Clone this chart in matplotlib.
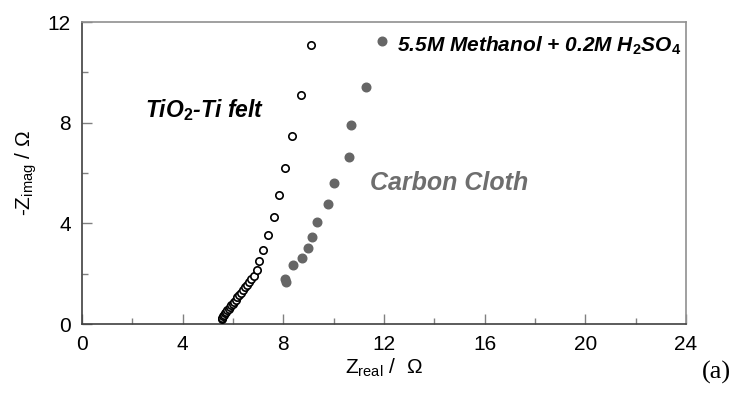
import matplotlib
matplotlib.use("Agg")
import matplotlib.pyplot as plt
from matplotlib.ticker import MultipleLocator

plt.rcParams['font.family'] = ['Liberation Sans', 'DejaVu Sans']
plt.rcParams['mathtext.fontset'] = 'custom'
plt.rcParams['mathtext.rm'] = 'Liberation Sans'
plt.rcParams['mathtext.it'] = 'Liberation Sans:italic:bold'
plt.rcParams['mathtext.bf'] = 'Liberation Sans:bold'

# TiO2-Ti felt electrode (open circles)
tio2_zreal = [5.55, 5.58, 5.62, 5.66, 5.70, 5.74, 5.78, 5.83, 5.88, 5.93,
              5.98, 6.04, 6.10, 6.17, 6.24, 6.32, 6.40, 6.48, 6.56,
              6.64, 6.73, 6.82, 6.94, 7.05, 7.20, 7.39, 7.62, 7.84,
              8.08, 8.36, 8.70, 9.11]
tio2_zimag = [0.18, 0.24, 0.30, 0.36, 0.42, 0.48, 0.54, 0.60, 0.67, 0.74,
              0.81, 0.89, 0.97, 1.06, 1.15, 1.25, 1.35, 1.46, 1.56,
              1.66, 1.78, 1.92, 2.16, 2.52, 2.95, 3.55, 4.27, 5.14,
              6.19, 7.48, 9.09, 11.08]

# Carbon cloth electrode (filled circles)
cc_zreal = [8.07, 8.11, 8.39, 8.75, 8.99, 9.15, 9.32, 9.79, 10.03, 10.60,
            10.68, 11.27, 11.92]
cc_zimag = [1.78, 1.65, 2.34, 2.63, 3.03, 3.47, 4.05, 4.77, 5.61, 6.65,
            7.89, 9.40, 11.26]

fig = plt.figure(figsize=(7.35, 3.98), dpi=100)
ax = fig.add_axes([0.1116, 0.1859, 0.8218, 0.7588])

ax.plot(cc_zreal, cc_zimag, 'o', ms=6.2, mfc='#666666', mec='#666666',
        zorder=3)
ax.plot(tio2_zreal, tio2_zimag, 'o', ms=5.3, mfc='white', mec='black',
        mew=1.2, zorder=4)

ax.set_xlim(0, 24)
ax.set_ylim(0, 12)
ax.xaxis.set_major_locator(MultipleLocator(4))
ax.xaxis.set_minor_locator(MultipleLocator(2))
ax.yaxis.set_major_locator(MultipleLocator(4))
ax.yaxis.set_minor_locator(MultipleLocator(2))
ax.tick_params(which='both', direction='in', color='#808080', width=1.0,
               labelsize=15, pad=8)
ax.tick_params(which='major', length=7)
ax.tick_params(which='minor', length=4)

for side in ['top', 'right']:
    ax.spines[side].set_color('#909090')
    ax.spines[side].set_linewidth(1.2)
for side in ['left', 'bottom']:
    ax.spines[side].set_color('#404040')
    ax.spines[side].set_linewidth(1.2)

ax.set_xlabel(r'Z$_{\mathregular{real}}$ /  $\Omega$', fontsize=15,
              labelpad=2)
ax.set_ylabel(r'-Z$_{\mathregular{imag}}$ / $\Omega$', fontsize=15,
              labelpad=6)

ax.text(12.5, 11.05, r'5.5M Methanol + 0.2M H$_{\mathbf{2}}$SO$_{\mathbf{4}}$',
        fontsize=15, fontweight='bold', fontstyle='italic', va='center')
ax.text(2.5, 8.5, r'TiO$_{\mathbf{2}}$-Ti felt', fontsize=16.5,
        fontweight='bold', fontstyle='italic', va='center')
ax.text(11.45, 5.6, 'Carbon Cloth', fontsize=18, fontweight='bold',
        fontstyle='italic', color='#6e6e6e', va='center')

fig.text(0.995, 0.035, '(a)', fontsize=19, family='Liberation Serif',
         ha='right', va='bottom')

fig.savefig('out.png', dpi=100)
